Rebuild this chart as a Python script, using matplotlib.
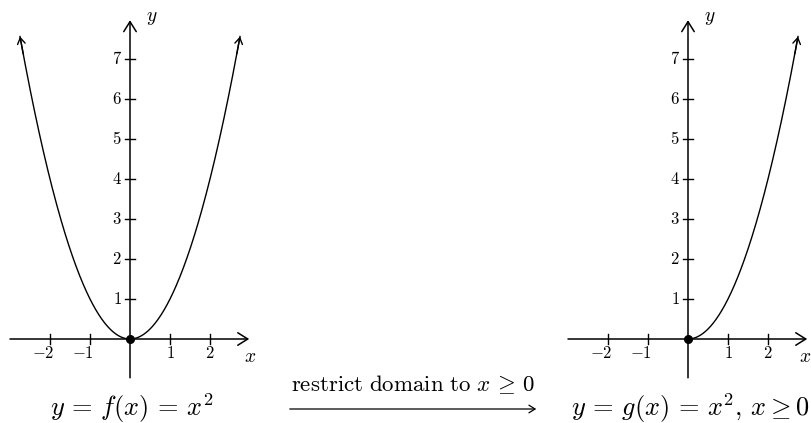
import numpy as np
import matplotlib
matplotlib.use("Agg")
from matplotlib import pyplot as plt

plt.rcParams['mathtext.fontset'] = 'cm'
plt.rcParams['font.family'] = ['cmr10', 'DejaVu Sans']

# chart content
x_ticks = [-2, -1, 1, 2]
y_ticks = [1, 2, 3, 4, 5, 6, 7]
x_axis_range = (-3.0, 2.98)
y_axis_range = (-0.97, 7.97)
left_domain = (-2.75, 2.75)
right_domain = (0.0, 2.75)
left_caption = r'$y\,=\,f(x)\,=\,x^2$'
right_caption = r'$y\,=\,g(x)\,=\,x^2,\, x\geq 0$'
arrow_label = r'$\mathrm{restrict\ domain\ to}\ x\,\geq\,0$'


def f(x):
    return x ** 2


def draw_panel(ax, xlim, ylim, domain, caption, cap_x, xlabel_x):
    ax.set_xlim(*xlim)
    ax.set_ylim(*ylim)
    ax.axis('off')

    axis_arrow = dict(arrowstyle='->, head_length=0.4, head_width=0.25',
                      lw=1.1, color='black', shrinkA=0, shrinkB=0,
                      mutation_scale=18)
    ax.annotate('', xy=(x_axis_range[1], 0), xytext=(x_axis_range[0], 0),
                arrowprops=axis_arrow)
    ax.annotate('', xy=(0, y_axis_range[1]), xytext=(0, y_axis_range[0]),
                arrowprops=axis_arrow)

    t = 0.13
    for xt in x_ticks:
        ax.plot([xt, xt], [-t, t], color='black', lw=1.0)
        if xt < 0:
            ax.text(xt + 0.1, -0.34, f'$-{abs(xt)}$', ha='right', va='center', fontsize=12)
        else:
            ax.text(xt, -0.34, f'${xt}$', ha='center', va='center', fontsize=12)
    for yt in y_ticks:
        ax.plot([-t, t], [yt, yt], color='black', lw=1.0)
        ax.text(-0.2, yt, f'${yt}$', ha='right', va='center', fontsize=12)

    ax.text(xlabel_x, -0.45, '$x$', ha='center', va='center', fontsize=14)
    ax.text(0.55, 8.02, '$y$', ha='center', va='center', fontsize=14)

    xs = np.linspace(domain[0], domain[1], 300)
    ax.plot(xs, f(xs), color='black', lw=1.0)
    curve_arrow = dict(arrowstyle='->, head_length=0.4, head_width=0.25',
                       lw=1.0, color='black', shrinkA=0, shrinkB=0,
                       mutation_scale=11)
    ends = [domain[1]] if domain[0] == 0 else [domain[0], domain[1]]
    for xe in ends:
        xb = xe - 0.08 * np.sign(xe)
        ax.annotate('', xy=(xe, f(xe)), xytext=(xb, f(xb)), arrowprops=curve_arrow)

    ax.plot([0], [0], 'o', color='black', markersize=5.5, zorder=5)
    ax.text(cap_x, -1.72, caption, ha='center', va='center', fontsize=19)


W, H = 812, 423
fig = plt.figure(figsize=(W / 100, H / 100), dpi=100)
px = 40.0  # pixels per unit
oy = 339
ylim = ((oy - H) / px, oy / px)

ax1 = fig.add_axes([0, 0, 260 / W, 1])
draw_panel(ax1, (-130 / px, 130 / px), ylim, left_domain, left_caption, 0.05, 3.0)

ax2 = fig.add_axes([550 / W, 0, 262 / W, 1])
draw_panel(ax2, (-138 / px, 124 / px), ylim, right_domain, right_caption, 0.05, 2.92)

fig.text(413 / W, 1 - 385 / H, arrow_label, ha='center', va='center', fontsize=16.5)
fig.add_artist(matplotlib.patches.FancyArrowPatch(
    (287 / W, 1 - 409 / H), (539 / W, 1 - 409 / H), transform=fig.transFigure,
    arrowstyle='->, head_length=0.4, head_width=0.25', mutation_scale=11,
    lw=0.9, color='black'))

fig.savefig('out.png', dpi=100)
